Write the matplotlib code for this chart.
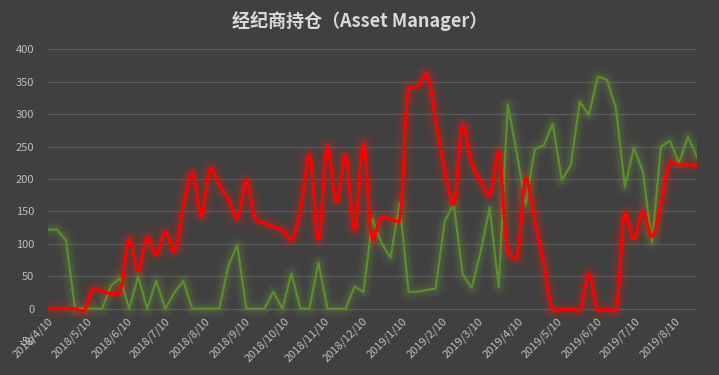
import matplotlib.pyplot as plt
import matplotlib.dates as mdates
import numpy as np
import datetime as dt

plt.rcParams['font.family'] = ['Noto Sans CJK SC', 'DejaVu Sans']

#%% data (weekly, from 2018/4/10)

start = dt.date(2018, 4, 10)

green = [122, 122, 105, 0, 0, 0, 0, 36, 47, 0,
         50, 0, 43, 0, 24, 43, 0, 0, 0, 0,
         66, 98, 0, 0, 0, 26, 0, 54, 0, 0,
         71, 0, 0, 0, 34, 26, 138, 101, 79, 162,
         26, 26, 29, 31, 134, 162, 53, 32, 88, 156,
         33, 315, 240, 161, 246, 252, 285, 198, 222, 319,
         299, 358, 353, 310, 188, 248, 211, 102, 250, 259,
         225, 265, 234]

red = [0, 0, 0, 0, -3, 30, 27, 23, 27, 107,
       59, 110, 83, 118, 88, 157, 209, 142, 216, 191,
       168, 139, 198, 139, 132, 126, 121, 106, 152, 237,
       107, 250, 165, 237, 121, 255, 106, 141, 138, 136,
       340, 343, 362, 291, 214, 161, 283, 224, 196, 175,
       242, 90, 78, 201, 137, 70, -2, -1, -1, -2,
       54, -2, -1, -2, 148, 108, 150, 111, 160, 225,
       222, 222, 221]

dates = [start + dt.timedelta(weeks=i) for i in range(len(green))]

tick_dates = [dt.date(2018 + (3 + k) // 12, (3 + k) % 12 + 1, 10) for k in range(17)]
tick_labels = ['%d/%d/%d' % (d.year, d.month, d.day) for d in tick_dates]

yticks = [-50, 0, 50, 100, 150, 200, 250, 300, 350, 400]


def smooth(x, y, sx=1.0, sy=1.0, n=16):
    # bezier smoothing like excel: tangents scaled by segment length (screen space)
    P = np.column_stack([np.asarray(x, float) * sx, np.asarray(y, float) * sy])
    m = len(P)
    d = np.hypot(*np.diff(P, axis=0).T)
    out = []
    t = np.linspace(0, 1, n, endpoint=False)[:, None]
    for i in range(m - 1):
        p1, p2 = P[i], P[i + 1]
        p0 = P[i - 1] if i > 0 else p1
        p3 = P[i + 2] if i + 2 < m else p2
        d0 = d[i - 1] if i > 0 else 0
        d2 = d[i + 1] if i + 2 < m else 0
        c1 = p1 + (p2 - p0) * d[i] / (d0 + d[i]) / 3 if i > 0 else p1 + (p2 - p1) / 3
        c2 = p2 - (p3 - p1) * d[i] / (d[i] + d2) / 3 if i + 2 < m else p2 - (p2 - p1) / 3
        seg = ((1 - t) ** 3 * p1 + 3 * (1 - t) ** 2 * t * c1
               + 3 * (1 - t) * t ** 2 * c2 + t ** 3 * p2)
        out.append(seg)
    out.append(P[-1:])
    out = np.vstack(out)
    return out[:, 0] / sx, out[:, 1] / sy


#%% plot

bg = '#404040'
fig = plt.figure(figsize=(7.19, 3.75), dpi=100, facecolor=bg)
ax = fig.add_axes([0.0668, 0.0904, 0.9026, 0.778], facecolor=bg)

xn = mdates.date2num(dates)

for v in [0, 50, 100, 150, 200, 250, 300, 350, 400]:
    ax.axhline(v, color='#5c5c5c', lw=0.9, zorder=0)

# glow
gcol = '#5b8f2b'
rcol = '#ff0000'
# screen scale: ~9 px per week, ~0.65 px per unit
rx, ry = smooth(xn, red, sx=9.0 / 7, sy=0.6485)
for w, a in [(14, 0.035), (11, 0.05), (8, 0.07), (5.5, 0.09)]:
    ax.plot(xn, green, color='#7aa540', lw=w, alpha=a, solid_joinstyle='round',
            solid_capstyle='round', zorder=1)
    ax.plot(rx, ry, color='#c8301e', lw=w, alpha=a + 0.03, solid_joinstyle='round',
            solid_capstyle='round', zorder=1)

ax.plot(xn, green, color=gcol, lw=1.6, zorder=3)
ax.plot(rx, ry, color=rcol, lw=2.2, zorder=4)

for s in ax.spines.values():
    s.set_visible(False)
ax.spines['bottom'].set_position(('data', 0))

ax.set_xlim(xn[0], xn[-1])
ax.set_ylim(-50, 400)
ax.set_yticks(yticks)
ax.set_yticklabels([str(v) for v in yticks])
ax.set_xticks(mdates.date2num(tick_dates))
ax.set_xticklabels(tick_labels, rotation=45, ha='right', va='top', rotation_mode='anchor')

ax.tick_params(axis='both', length=0, colors='#bfbfbf', labelsize=8)
ax.tick_params(axis='y', pad=10)
ax.tick_params(axis='x', pad=5)

fig.text(0.5, 0.945, '经纪商持仓（Asset Manager）', ha='center', va='center',
         color='#d9d9d9', fontsize=13, fontweight='bold')

plt.savefig('out.png', dpi=100, facecolor=bg)
